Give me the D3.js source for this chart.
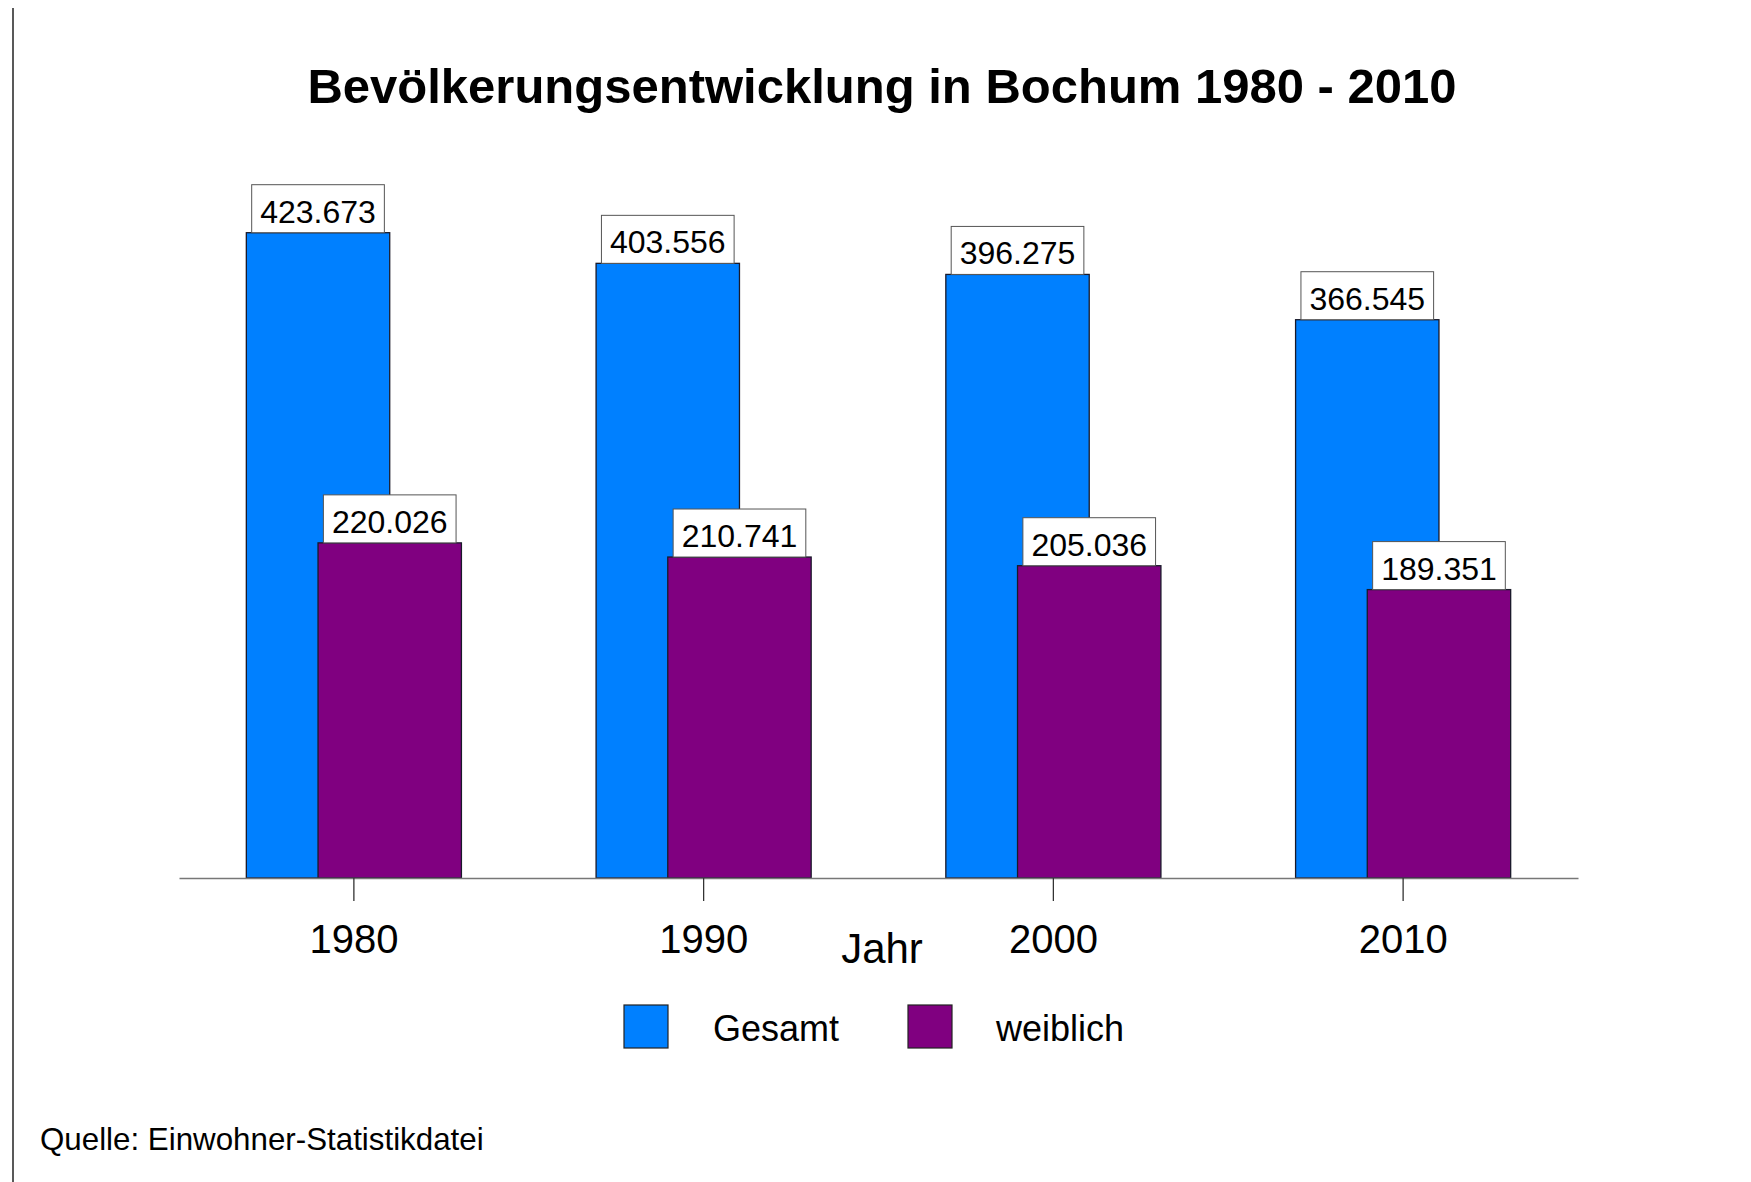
<!DOCTYPE html>
<html>
<head>
<meta charset="utf-8">
<script src="https://cdnjs.cloudflare.com/ajax/libs/d3/7.8.5/d3.min.js"></script>
<style>
    body { margin: 0; background: #fff; }
    svg { display: block; font-family: "Liberation Sans", Arial, sans-serif; }
</style>
</head>
<body>
<div id="chartArea"></div>
<script>
// Data
const years = ['1980', '1990', '2000', '2010'];
const gesamt = [423673, 403556, 396275, 366545];
const weiblich = [220026, 210741, 205036, 189351];
const seriesNames = ['Gesamt', 'weiblich'];
const seriesColors = ['#0080ff', '#800080'];

const width = 1751;
const height = 1182;

const svg = d3.select('#chartArea')
    .append('svg')
    .attr('width', width)
    .attr('height', height);

// German number format: 423.673
const fmt = d3.formatLocale({decimal: ',', thousands: '.', grouping: [3], currency: ['', ' €']}).format(',d');

// Scales
const xScale = d3.scaleBand()
    .domain(years)
    .range([179, 1578])
    .padding(0);
const yScale = d3.scaleLinear()
    .domain([0, 450000])
    .range([878, 192.6]);

const barW = xScale.bandwidth() * 0.41;
const center = d => xScale(d) + xScale.bandwidth() / 2;

// left frame line
svg.append('line')
    .attr('x1', 13).attr('x2', 13)
    .attr('y1', 8).attr('y2', height)
    .attr('stroke', '#222')
    .attr('stroke-width', 1.5);

// Title
svg.append('text')
    .attr('x', 882)
    .attr('y', 103)
    .attr('text-anchor', 'middle')
    .attr('font-size', 49)
    .attr('font-weight', 'bold')
    .text('Bevölkerungsentwicklung in Bochum 1980 - 2010');

// Bars: Gesamt behind, weiblich in front and shifted right
const series = [gesamt, weiblich];
const offsets = [-0.75, -0.25];

series.forEach((values, s) => {
    svg.append('g')
        .selectAll('rect')
        .data(years)
        .enter()
        .append('rect')
        .attr('x', (d, i) => center(d) + offsets[s] * barW)
        .attr('y', (d, i) => yScale(values[i]))
        .attr('width', barW)
        .attr('height', (d, i) => yScale(0) - yScale(values[i]))
        .attr('fill', seriesColors[s])
        .attr('stroke', '#1a1a2a')
        .attr('stroke-width', 1.3);
});

// X axis
const xAxis = svg.append('g')
    .attr('transform', `translate(0,${yScale(0)})`)
    .call(d3.axisBottom(xScale).tickSize(23).tickPadding(52).tickSizeOuter(0));
xAxis.select('.domain').attr('stroke', '#777').attr('stroke-width', 1.6);
xAxis.selectAll('.tick line').attr('stroke', '#333').attr('stroke-width', 1.3);
xAxis.selectAll('.tick text')
    .attr('font-size', 40)
    .attr('font-family', '"Liberation Sans", Arial, sans-serif')
    .attr('fill', '#000')
    .attr('dy', 0)
    .attr('y', 953 - 878);

// Axis title
svg.append('text')
    .attr('x', 882)
    .attr('y', 963)
    .attr('text-anchor', 'middle')
    .attr('font-size', 42)
    .text('Jahr');

// Value labels with white boxes
series.forEach((values, s) => {
    const g = svg.append('g');
    years.forEach((yr, i) => {
        const cx = center(yr) + (offsets[s] + 0.5) * barW;
        const top = yScale(values[i]);
        const lbl = g.append('g');
        const box = lbl.append('rect');
        const t = lbl.append('text')
            .attr('x', cx)
            .attr('y', top - 10)
            .attr('text-anchor', 'middle')
            .attr('font-size', 32)
            .text(fmt(values[i]));
        const w = t.node().getComputedTextLength() + 17;
        box.attr('x', cx - w / 2)
            .attr('y', top - 48)
            .attr('width', w)
            .attr('height', 48)
            .attr('fill', '#fff')
            .attr('stroke', '#555')
            .attr('stroke-width', 1);
    });
});

// Legend
const legendX = [624, 908];
const legendTextX = [713, 996];
seriesNames.forEach((name, s) => {
    svg.append('rect')
        .attr('x', legendX[s])
        .attr('y', 1005)
        .attr('width', 44)
        .attr('height', 43)
        .attr('fill', seriesColors[s])
        .attr('stroke', '#222')
        .attr('stroke-width', 1.2);
    svg.append('text')
        .attr('x', legendTextX[s])
        .attr('y', 1041)
        .attr('font-size', 36)
        .text(name);
});

// Source
svg.append('text')
    .attr('x', 40)
    .attr('y', 1150)
    .attr('font-size', 31.3)
    .text('Quelle: Einwohner-Statistikdatei');
</script>
</body>
</html>
